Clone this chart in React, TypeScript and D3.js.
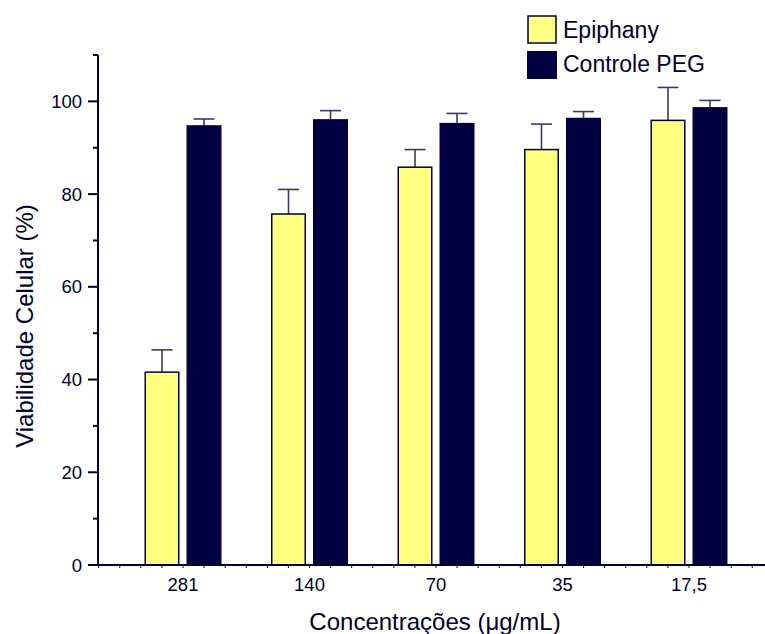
import React from "react";
import * as d3 from "d3";

const categories = ["281", "140", "70", "35", "17,5"];
const seriesNames = ["Epiphany", "Controle PEG"];
const epiphanyValues = [41.6, 75.7, 85.8, 89.6, 95.9];
const epiphanyErrors = [4.8, 5.3, 3.8, 5.5, 7.1];
const pegValues = [94.7, 96.0, 95.2, 96.3, 98.6];
const pegErrors = [1.5, 2.0, 2.2, 1.5, 1.6];
const yTicks = [0, 20, 40, 60, 80, 100];
const yMinorTicks = [10, 30, 50, 70, 90, 110];

const NAVY = "#000033";
const DARK = "#000040";
const YELLOW = "#FFFF80";
const ERR = "#3a3a6a";
const FONT = "'Liberation Sans', Arial, Helvetica, sans-serif";

export default function App() {
  const W = 765, H = 634;
  const y = d3.scaleLinear().domain([0, 110]).range([565, 55]);
  const x = d3.scaleBand<string>().domain(categories).range([119.75, 752.25]).padding(0);
  const xl = d3.scaleLinear().domain([0, 5]).range([119.75, 752.25]);
  const bw = x.bandwidth();
  const barW = 33.5;
  const sub = d3.scalePoint<string>().domain(seriesNames).range([-21, 21]);
  const groups = [
    { name: seriesNames[0], vals: epiphanyValues, errs: epiphanyErrors, fill: YELLOW, stroke: NAVY },
    { name: seriesNames[1], vals: pegValues, errs: pegErrors, fill: DARK, stroke: DARK },
  ];
  const xStart = xl(-1 / 6);
  const xMinor = d3.range(-1, 31).map((i) => i / 6);
  return (
    <svg width={W} height={H} style={{ position: "absolute", left: 0, top: 0, background: "#fff" }} fontFamily={FONT}>
      {groups.map((g) =>
        categories.map((c, i) => {
          const cx = (x(c) as number) + bw / 2 + (sub(g.name) as number);
          const top = y(g.vals[i]);
          const et = y(g.vals[i] + g.errs[i]);
          return (
            <g key={g.name + c}>
              <line x1={cx} x2={cx} y1={top} y2={et} stroke={ERR} strokeWidth={1.6} />
              <line x1={cx - 10.5} x2={cx + 10.5} y1={et} y2={et} stroke={ERR} strokeWidth={1.6} />
              <rect x={cx - barW / 2} y={top} width={barW} height={y(0) - top} fill={g.fill} stroke={g.stroke} strokeWidth={1.5} />
            </g>
          );
        })
      )}
      <line x1={98} x2={98} y1={y(110)} y2={y(0)} stroke={NAVY} strokeWidth={2} />
      {yTicks.map((t) => (
        <g key={"yt" + t}>
          <line x1={88} x2={98} y1={y(t)} y2={y(t)} stroke={NAVY} strokeWidth={2} />
          <text x={82} y={y(t) + 6.5} textAnchor="end" fontSize={18.5} fill={NAVY}>{t}</text>
        </g>
      ))}
      {yMinorTicks.map((t) => (
        <line key={"ym" + t} x1={93} x2={98} y1={y(t)} y2={y(t)} stroke={NAVY} strokeWidth={2} />
      ))}
      <line x1={xStart - 1} x2={W} y1={y(0)} y2={y(0)} stroke={NAVY} strokeWidth={2} />
      {xMinor.map((t, i) => (
        <line key={"xm" + i} x1={xl(t)} x2={xl(t)} y1={y(0)} y2={y(0) + 3} stroke={NAVY} strokeWidth={1} />
      ))}
      {categories.map((c) => (
        <text key={"xl" + c} x={(x(c) as number) + bw / 2} y={591} textAnchor="middle" fontSize={18.5} fill={NAVY}>{c}</text>
      ))}
      <text x={435} y={630} textAnchor="middle" fontSize={24} fill={NAVY}>Concentrações (μg/mL)</text>
      <text transform={`translate(33,326) rotate(-90)`} textAnchor="middle" fontSize={24} fill={NAVY}>Viabilidade Celular (%)</text>
      <rect x={528} y={16} width={28} height={27} fill={YELLOW} stroke={NAVY} strokeWidth={1.5} />
      <text x={563} y={38} fontSize={23} fill={NAVY}>{seriesNames[0]}</text>
      <rect x={527} y={51} width={30} height={28} fill={DARK} />
      <text x={563} y={72} fontSize={23} fill={NAVY}>{seriesNames[1]}</text>
    </svg>
  );
}
